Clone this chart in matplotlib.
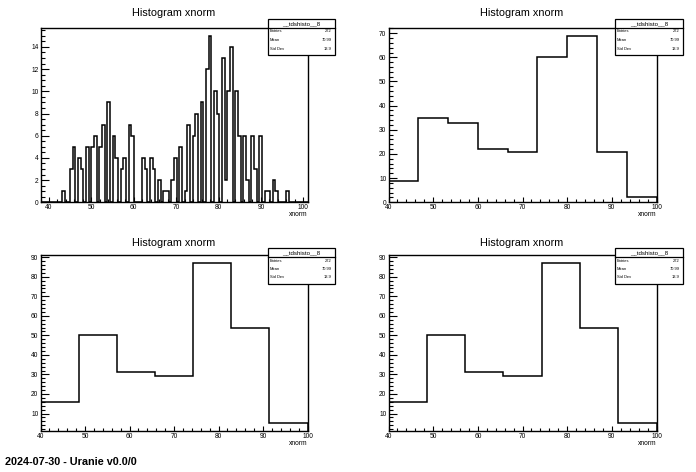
import matplotlib

matplotlib.use("Agg")

import matplotlib.pyplot as plt
import numpy as np
from matplotlib.patches import Rectangle
from matplotlib.ticker import AutoMinorLocator, MultipleLocator

plt.rcParams["font.family"] = ["Liberation Sans", "DejaVu Sans"]

W, H = 696, 472

TITLE = "Histogram xnorm"
X_LABEL = "xnorm"
STATS_NAME = "__tdshisto__8"
STATS_ROWS = [("Entries", "272"), ("Mean", "70.99"), ("Std Dev", "13.9")]
FOOTER = "2024-07-30 - Uranie v0.0/0"

# 100-bin histogram (auto range)
FINE_RANGE = (38.0, 101.0)
FINE_COUNTS = [
    0, 0, 0, 0, 0, 0, 0, 0, 1, 0,
    0, 3, 5, 0, 4, 3, 0, 5, 0, 5,
    6, 0, 5, 7, 0, 9, 0, 6, 4, 0,
    3, 4, 0, 7, 6, 0, 0, 0, 4, 3,
    0, 4, 3, 0, 2, 0, 1, 1, 0, 2,
    4, 0, 5, 0, 1, 7, 0, 6, 8, 0,
    9, 0, 12, 15, 0, 10, 8, 0, 13, 2,
    10, 14, 0, 10, 6, 0, 6, 2, 0, 6,
    3, 0, 6, 0, 1, 1, 0, 2, 1, 0,
    0, 0, 1, 0, 0, 0, 0, 0, 0, 0,
]

COARSE_RANGE = (40.0, 100.0)
COUNTS_9 = [9, 35, 33, 22, 21, 60, 69, 21, 2]
COUNTS_7 = [16, 50, 31, 29, 87, 54, 5]


def fx(x):
    return x / W


def fy(y):
    return 1 - y / H


def y_limits(counts):
    # ROOT style: 5% margin, clamp at zero
    lo, hi = min(counts), max(counts)
    m = 0.05 * (hi - lo)
    ymin = lo - m
    if ymin < 0 and lo >= 0:
        ymin = 0
    return ymin, hi + m


def draw_panel(fig, counts, xrange, frame, box, ystep, yminor, title_xy):
    left, top, right, bottom = frame
    ax = fig.add_axes([fx(left), fy(bottom), (right - left) / W, (bottom - top) / H])
    edges = np.linspace(xrange[0], xrange[1], len(counts) + 1)
    ax.stairs(counts, edges, color="black", lw=1.1)
    ax.set_xlim(*xrange)
    ax.set_ylim(*y_limits(counts))

    for s in ax.spines.values():
        s.set_linewidth(1.0)

    ax.xaxis.set_major_locator(MultipleLocator(10))
    ax.xaxis.set_minor_locator(MultipleLocator(2))
    ax.yaxis.set_major_locator(MultipleLocator(ystep))
    ax.yaxis.set_minor_locator(AutoMinorLocator(yminor))
    ax.tick_params(axis="x", which="major", direction="in", length=3.8, width=0.8,
                   labelsize=4.8, pad=1.2)
    ax.tick_params(axis="x", which="minor", direction="in", length=1.9, width=0.8)
    ax.tick_params(axis="y", which="major", direction="in", length=5.8, width=0.8,
                   labelsize=4.8, pad=1.5)
    ax.tick_params(axis="y", which="minor", direction="in", length=2.9, width=0.8)

    # axis title sits under the right end of the axis, below the labels
    ax.annotate(X_LABEL, xy=(1.0, 0.0), xycoords="axes fraction",
                xytext=(0, -12.3), textcoords="offset pixels",
                ha="right", va="center", fontsize=4.8)

    fig.text(fx(title_xy[0]), fy(title_xy[1]), TITLE, ha="center", va="center",
             fontsize=7.8)

    bx0, by0, bx1, by1 = box
    rect = Rectangle((fx(bx0), fy(by1)), (bx1 - bx0) / W, (by1 - by0) / H,
                     transform=fig.transFigure, facecolor="white", edgecolor="black",
                     lw=0.9, zorder=5)
    fig.add_artist(rect)
    sep = by0 + 8.5
    fig.add_artist(plt.Line2D([fx(bx0), fx(bx1)], [fy(sep), fy(sep)],
                              transform=fig.transFigure, color="black", lw=0.9, zorder=6))
    fig.text(fx((bx0 + bx1) / 2), fy(by0 + 4.4), STATS_NAME, ha="center", va="center",
             fontsize=4.4, zorder=7)
    for k, (name, val) in enumerate(STATS_ROWS):
        yy = by0 + 12.5 + 8.5 * k
        fig.text(fx(bx0 + 2), fy(yy), name, ha="left", va="center", fontsize=2.9, zorder=7)
        fig.text(fx(bx1 - 3), fy(yy), val, ha="right", va="center", fontsize=2.9, zorder=7)
    return ax


def main():
    fig = plt.figure(figsize=(W / 100, H / 100), dpi=100)

    draw_panel(fig, FINE_COUNTS, FINE_RANGE, (40.5, 27.5, 307.5, 202.3),
               (268, 19, 335, 55), 2, 4, (174, 13))
    draw_panel(fig, COUNTS_9, COARSE_RANGE, (388.5, 27.5, 656.5, 202.3),
               (615, 19, 683, 55), 10, 5, (522, 13))
    draw_panel(fig, COUNTS_7, COARSE_RANGE, (40.5, 255, 307.5, 431.3),
               (268, 248, 335, 284), 10, 5, (174, 243.5))
    draw_panel(fig, COUNTS_7, COARSE_RANGE, (388.5, 255, 656.5, 431.3),
               (615, 248, 683, 284), 10, 5, (522, 243.5))

    fig.text(fx(5), fy(462), FOOTER, ha="left", va="center", fontsize=7.8,
             fontweight="bold")

    fig.savefig("out.png", dpi=100)
    plt.close(fig)


if __name__ == "__main__":
    main()
